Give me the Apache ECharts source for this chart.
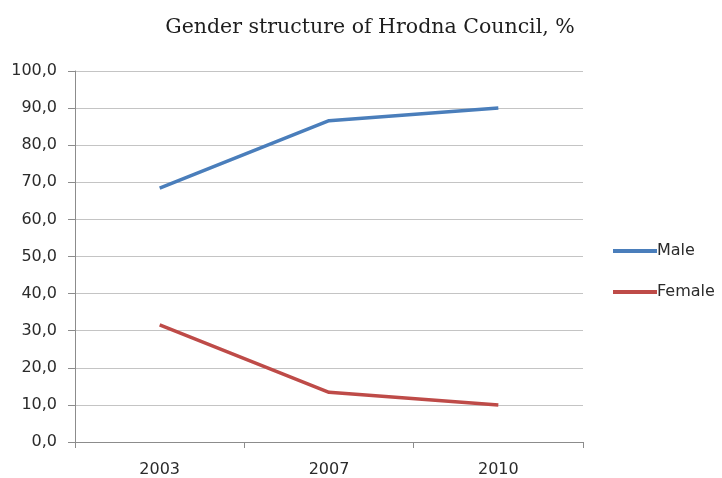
<!DOCTYPE html>
<html><head><meta charset="utf-8">
<script src="https://cdn.jsdelivr.net/npm/echarts@6/dist/echarts.min.js"></script>
<style>html,body{margin:0;padding:0;background:#fff}#c{width:722px;height:478px}</style>
</head><body><div id="c"></div>
<script>
const categories = ['2003', '2007', '2010'];
const maleValues = [68.4, 86.6, 90.0];
const femaleValues = [31.6, 13.4, 10.0];
const seriesNames = ['Male', 'Female'];

const chart = echarts.init(document.getElementById('c'), null, {renderer: 'canvas'});
const labelFont = {fontFamily: '"DejaVu Sans", sans-serif', fontSize: 16, color: '#2b2b2b'};
chart.setOption({
  animation: false,
  backgroundColor: '#fff',
  title: {
    text: 'Gender structure of Hrodna Council, %',
    left: 365, top: 12, textAlign: 'center',
    textStyle: {fontFamily: '"DejaVu Serif", serif', fontSize: 20.5, fontWeight: 'normal', color: '#1e1e1e'}
  },
  legend: {
    orient: 'vertical', left: 613, top: 243, padding: 0,
    itemWidth: 44, itemHeight: 4, itemGap: 25, icon: 'rect',
    textStyle: Object.assign({}, labelFont, {padding: [0, 0, 0, -5]}),
    data: seriesNames
  },
  grid: {left: 75, right: 139, top: 71, bottom: 35, containLabel: false},
  xAxis: {
    type: 'category', data: categories, boundaryGap: true,
    axisLine: {lineStyle: {color: '#8c8c8c', width: 1}},
    axisTick: {show: true, length: 6, lineStyle: {color: '#8c8c8c'}},
    axisLabel: Object.assign({}, labelFont, {margin: 20})
  },
  yAxis: {
    type: 'value', min: 0, max: 100, interval: 10,
    axisLine: {show: true, lineStyle: {color: '#8c8c8c', width: 1}},
    axisTick: {show: true, length: 7, lineStyle: {color: '#8c8c8c'}},
    axisLabel: Object.assign({}, labelFont, {margin: 18, formatter: v => v.toFixed(1).replace('.', ',')}),
    splitLine: {lineStyle: {color: '#c4c4c4', width: 1}}
  },
  series: [
    {name: seriesNames[0], type: 'line', data: maleValues, symbol: 'none',
     lineStyle: {color: '#4a7ebb', width: 3.5}, itemStyle: {color: '#4a7ebb'}},
    {name: seriesNames[1], type: 'line', data: femaleValues, symbol: 'none',
     lineStyle: {color: '#be4b48', width: 3.5}, itemStyle: {color: '#be4b48'}}
  ]
});
</script></body></html>
